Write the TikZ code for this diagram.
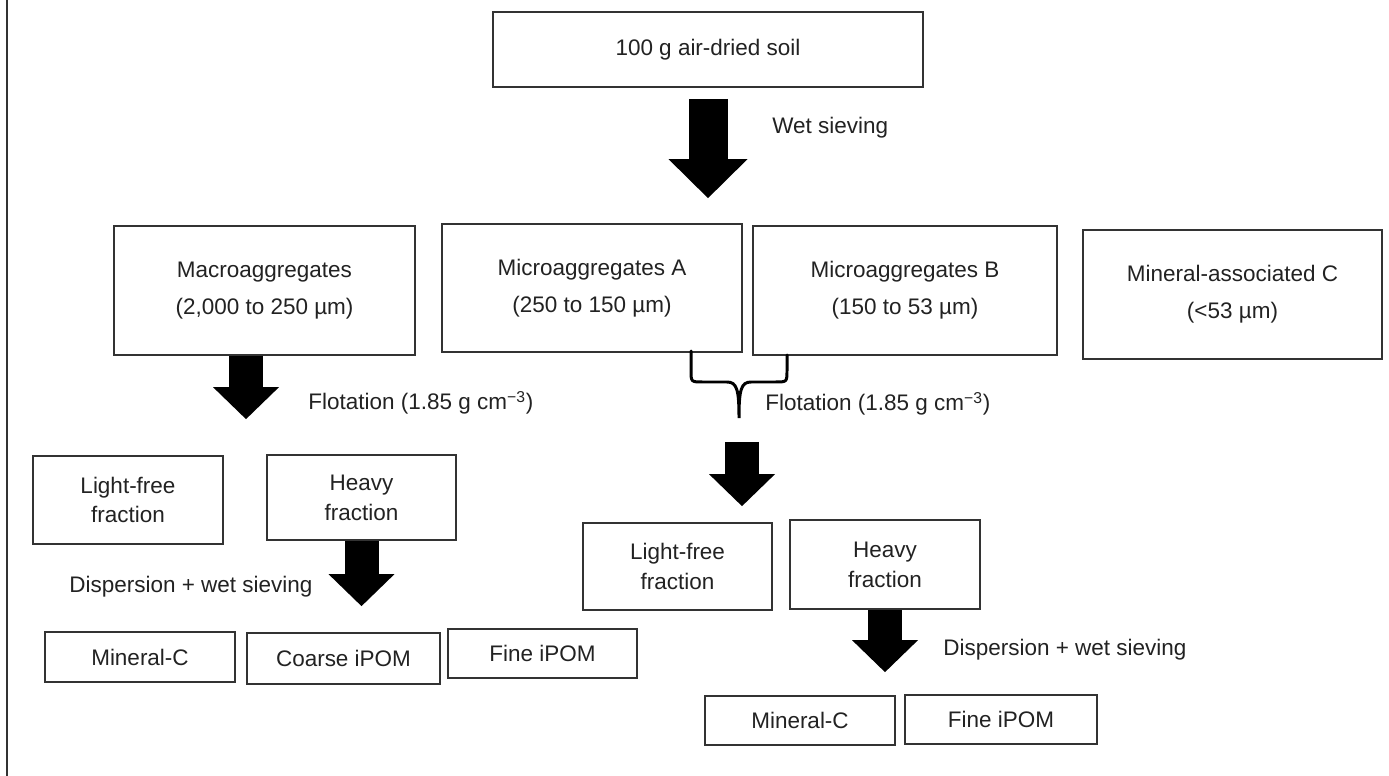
\documentclass[tikz,border=0pt]{standalone}
\usepackage{fontspec}
\setmainfont{Liberation Sans}
\usetikzlibrary{arrows.meta,positioning}
\definecolor{boxline}{HTML}{333333}
\definecolor{txt}{HTML}{222222}
\tikzset{
  box/.style={draw=boxline, line width=1pt, align=center, inner sep=2pt, text=txt, font=\fontsize{12.8}{17}\selectfont},
  lbl/.style={anchor=west, inner sep=0pt, text=txt, font=\fontsize{12.8}{17}\selectfont},
  fatarrow/.style={line width=0.68cm, -{Triangle[length=0.64cm 0 0, width=1.32cm 0 0, line width'=0pt]}},
  bigarrow/.style={line width=0.78cm, -{Triangle[length=0.78cm 0 0, width=1.58cm 0 0, line width'=0pt]}},
  brace/.style={line width=1.7pt, line cap=round}
}

\begin{document}
\begin{tikzpicture}[x=0.02cm, y=-0.02cm]
    \useasboundingbox (0,0) rectangle (1389,776);
    \draw[boxline, line width=1.2pt] (7,0) -- (7,776);

    % top and size classes
    \node[box, minimum width=8.6cm, minimum height=1.5cm] (soil) at (708,49.5) {100 g air-dried soil};
    \node[box, minimum width=6.02cm, minimum height=2.58cm] (macro) at (264.5,290.5) {Macroaggregates\\[4pt](2,000 to 250 µm)};
    \node[box, minimum width=6.0cm, minimum height=2.56cm] (microA) at (592,288) {Microaggregates A\\[4pt](250 to 150 µm)};
    \node[box, minimum width=6.08cm, minimum height=2.58cm] (microB) at (905,290.5) {Microaggregates B\\[4pt](150 to 53 µm)};
    \node[box, minimum width=5.98cm, minimum height=2.58cm] (minC) at (1232.5,294.5) {Mineral-associated C\\[4pt](<53 µm)};

    % macroaggregate branch
    \node[box, minimum width=3.8cm, minimum height=1.76cm] (lightL) at (128,500) {Light-free\\fraction};
    \node[box, minimum width=3.78cm, minimum height=1.7cm] (heavyL) at (361.5,497.5) {Heavy\\fraction};
    \node[box, minimum width=3.8cm, minimum height=1.0cm] (minL) at (140,657) {Mineral-C};
    \node[box, minimum width=3.86cm, minimum height=1.02cm] (coarse) at (343.5,658.5) {Coarse iPOM};
    \node[box, minimum width=3.78cm, minimum height=0.98cm] (fineL) at (542.5,653.5) {Fine iPOM};

    % microaggregate branch
    \node[box, minimum width=3.78cm, minimum height=1.74cm] (lightR) at (677.5,566.5) {Light-free\\fraction};
    \node[box, minimum width=3.8cm, minimum height=1.78cm] (heavyR) at (885,564.5) {Heavy\\fraction};
    \node[box, minimum width=3.8cm, minimum height=0.98cm] (minR) at (800,720.5) {Mineral-C};
    \node[box, minimum width=3.84cm, minimum height=0.98cm] (fineR) at (1001,719.5) {Fine iPOM};

    \coordinate (bracetip) at (739,418);
    \draw[brace] (691,351) -- (691,370) .. controls (691,382) .. (703,382) -- (727,382)
      .. controls (737,382) and (739,390) .. (bracetip)
      .. controls (739,390) and (741,382) .. (751,382) -- (775,382)
      .. controls (787,382) .. (787,370) -- (787,355);

    \draw[bigarrow, shorten <=0.22cm, shorten >=0.5cm] (soil.south) -- (soil.south |- microA.north);
    \draw[fatarrow, shorten >=0.7cm] ([xshift=-0.37cm]macro.south) -- ([xshift=-0.37cm]macro.south |- heavyL.north);
    \draw[fatarrow, shorten >=0.52cm] (heavyL.south) -- (heavyL.south |- coarse.north);
    \draw[fatarrow, shorten <=0.48cm, shorten >=0.32cm] ([xshift=0.06cm]bracetip) -- ([xshift=0.06cm]bracetip |- lightR.north);
    \draw[fatarrow, shorten >=0.46cm] (heavyR.south) -- (heavyR.south |- minR.north);

    \node[lbl] (wet) at (772,128) {Wet sieving};
    \node[lbl] (flotL) at (308,403) {Flotation (1.85 g cm\textsuperscript{−3})};
    \node[lbl] (flotR) at (765,404) {Flotation (1.85 g cm\textsuperscript{−3})};
    \node[lbl] (dispL) at (69,587) {Dispersion + wet sieving};
    \node[lbl] (dispR) at (943,650) {Dispersion + wet sieving};
\end{tikzpicture}
\end{document}
